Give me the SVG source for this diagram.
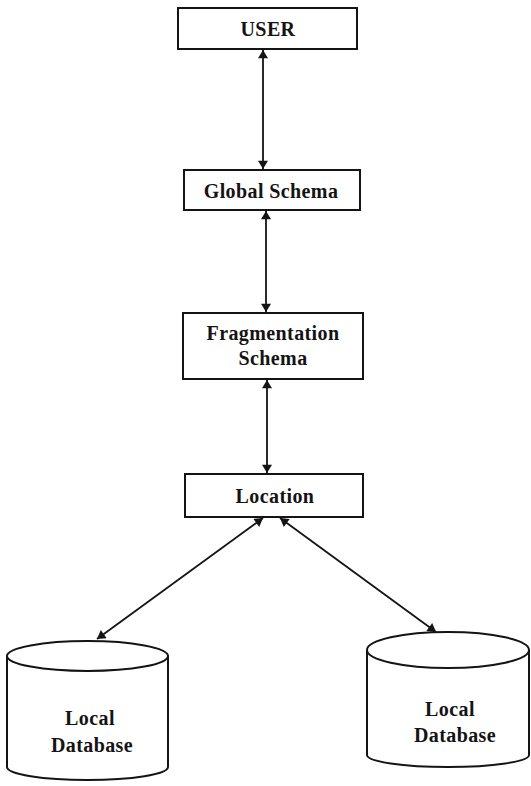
<svg xmlns="http://www.w3.org/2000/svg" width="531" height="786" viewBox="0 0 531 786">
  <defs>
    <marker id="arrow" viewBox="0 0 10 12" refX="10" refY="6" markerWidth="11" markerHeight="10" markerUnits="userSpaceOnUse" orient="auto-start-reverse">
      <path d="M0,0 L10,6 L0,12 Z" fill="#141414"/>
    </marker>
    <style>
      .box { fill: #ffffff; stroke: #141414; stroke-width: 2; }
      .db { fill: #ffffff; stroke: #141414; stroke-width: 2; }
      .label { font-family: "Liberation Serif", "Times New Roman", serif; font-weight: bold; font-size: 20px; letter-spacing: 0.4px; fill: #141414; text-anchor: middle; }
      .edge { stroke: #141414; stroke-width: 1.8; fill: none; marker-start: url(#arrow); marker-end: url(#arrow); }
    </style>
  </defs>
  <rect width="531" height="786" fill="#ffffff"/>

  <g id="connectors">
    <line class="edge" x1="263" y1="50" x2="263" y2="169"/>
    <line class="edge" x1="266" y1="211" x2="266" y2="312"/>
    <line class="edge" x1="267" y1="380" x2="267" y2="473"/>
    <line class="edge" x1="263" y1="518" x2="97" y2="639"/>
    <line class="edge" x1="280" y1="518" x2="436" y2="632"/>
  </g>

  <g id="user">
    <rect class="box" x="178" y="8" width="179" height="41"/>
    <text class="label" x="268" y="36">USER</text>
  </g>

  <g id="global-schema">
    <rect class="box" x="184" y="170" width="176" height="40"/>
    <text class="label" x="271" y="198">Global Schema</text>
  </g>

  <g id="fragmentation-schema">
    <rect class="box" x="183" y="313" width="180" height="66"/>
    <text class="label" x="273" y="340">Fragmentation</text>
    <text class="label" x="273" y="365">Schema</text>
  </g>

  <g id="location">
    <rect class="box" x="185" y="474" width="178" height="43"/>
    <text class="label" x="275" y="503">Location</text>
  </g>

  <g id="local-database-1">
    <path class="db" d="M7,656 L7,767 A80.5,13 0 0 0 168,767 L168,656"/>
    <ellipse class="db" cx="87.5" cy="656" rx="80.5" ry="15"/>
    <text class="label" x="90" y="725">Local</text>
    <text class="label" x="92" y="752">Database</text>
  </g>

  <g id="local-database-2">
    <path class="db" d="M367,650 L367,755 A81,12 0 0 0 529,755 L529,650"/>
    <ellipse class="db" cx="448" cy="650" rx="81" ry="18"/>
    <text class="label" x="450" y="716">Local</text>
    <text class="label" x="455" y="742">Database</text>
  </g>
</svg>
